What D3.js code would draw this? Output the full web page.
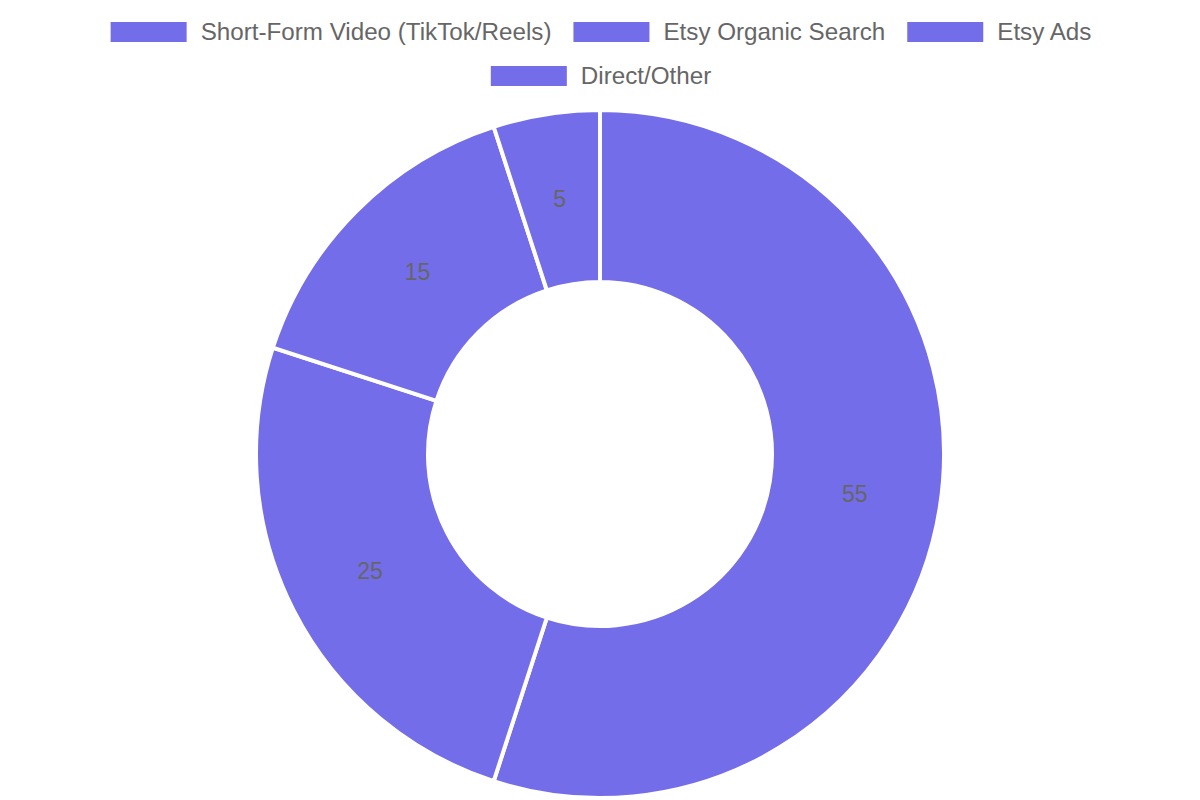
<!DOCTYPE html>
<html>
<head>
<meta charset="utf-8">
<script src="https://cdn.jsdelivr.net/npm/d3@7"></script>
<style>
html,body{margin:0;padding:0;background:#fff;}
svg{display:block;}
</style>
</head>
<body>
<svg id="chart" width="1200" height="800"></svg>
<script>
const categories = ["Short-Form Video (TikTok/Reels)", "Etsy Organic Search", "Etsy Ads", "Direct/Other"];
const values = [55, 25, 15, 5];
const legendRows = [[0, 1, 2], [3]];

const W = 1200, H = 800;
const color = "#736DE9";
const textColor = "#666666";
const fontFamily = "'Liberation Sans', Arial, Helvetica, sans-serif";

const svg = d3.select("#chart");

// Legend
const boxW = 76, boxH = 20, boxGap = 14, itemGap = 22, legendFont = 24.2;
const rowY = [32, 76];
const legend = svg.append("g");
legendRows.forEach((row, ri) => {
  const g = legend.append("g");
  let x = 0;
  row.forEach(i => {
    const item = g.append("g").attr("transform", `translate(${x},0)`);
    item.append("rect").attr("x", 0).attr("y", rowY[ri] - boxH / 2)
      .attr("width", boxW).attr("height", boxH).attr("fill", color);
    const t = item.append("text").attr("x", boxW + boxGap).attr("y", rowY[ri])
      .attr("dy", "0.33em").attr("font-family", fontFamily).attr("font-size", legendFont)
      .attr("fill", textColor).text(categories[i]);
    x += boxW + boxGap + t.node().getComputedTextLength() + itemGap;
  });
  const total = x - itemGap;
  g.attr("transform", `translate(${(W - total) / 2 + 1},0)`);
});

// Donut
const cx = 600, cy = 454, outerR = 344, innerR = 172;
const pie = d3.pie().sort(null).value(d => d);
const arcs = pie(values);
const arc = d3.arc().innerRadius(innerR).outerRadius(outerR);
const labelArc = d3.arc().innerRadius((innerR + outerR) / 2).outerRadius((innerR + outerR) / 2);

const g = svg.append("g").attr("transform", `translate(${cx},${cy})`);
g.selectAll("path").data(arcs).enter().append("path")
  .attr("d", arc).attr("fill", color)
  .attr("stroke", "#fff").attr("stroke-width", 4).attr("stroke-linejoin", "miter");

g.selectAll("text.val").data(arcs).enter().append("text")
  .attr("class", "val")
  .attr("transform", d => `translate(${labelArc.centroid(d)})`)
  .attr("text-anchor", "middle").attr("dy", "0.35em")
  .attr("font-family", fontFamily).attr("font-size", 23)
  .attr("fill", textColor)
  .text(d => d.data);
</script>
</body>
</html>
